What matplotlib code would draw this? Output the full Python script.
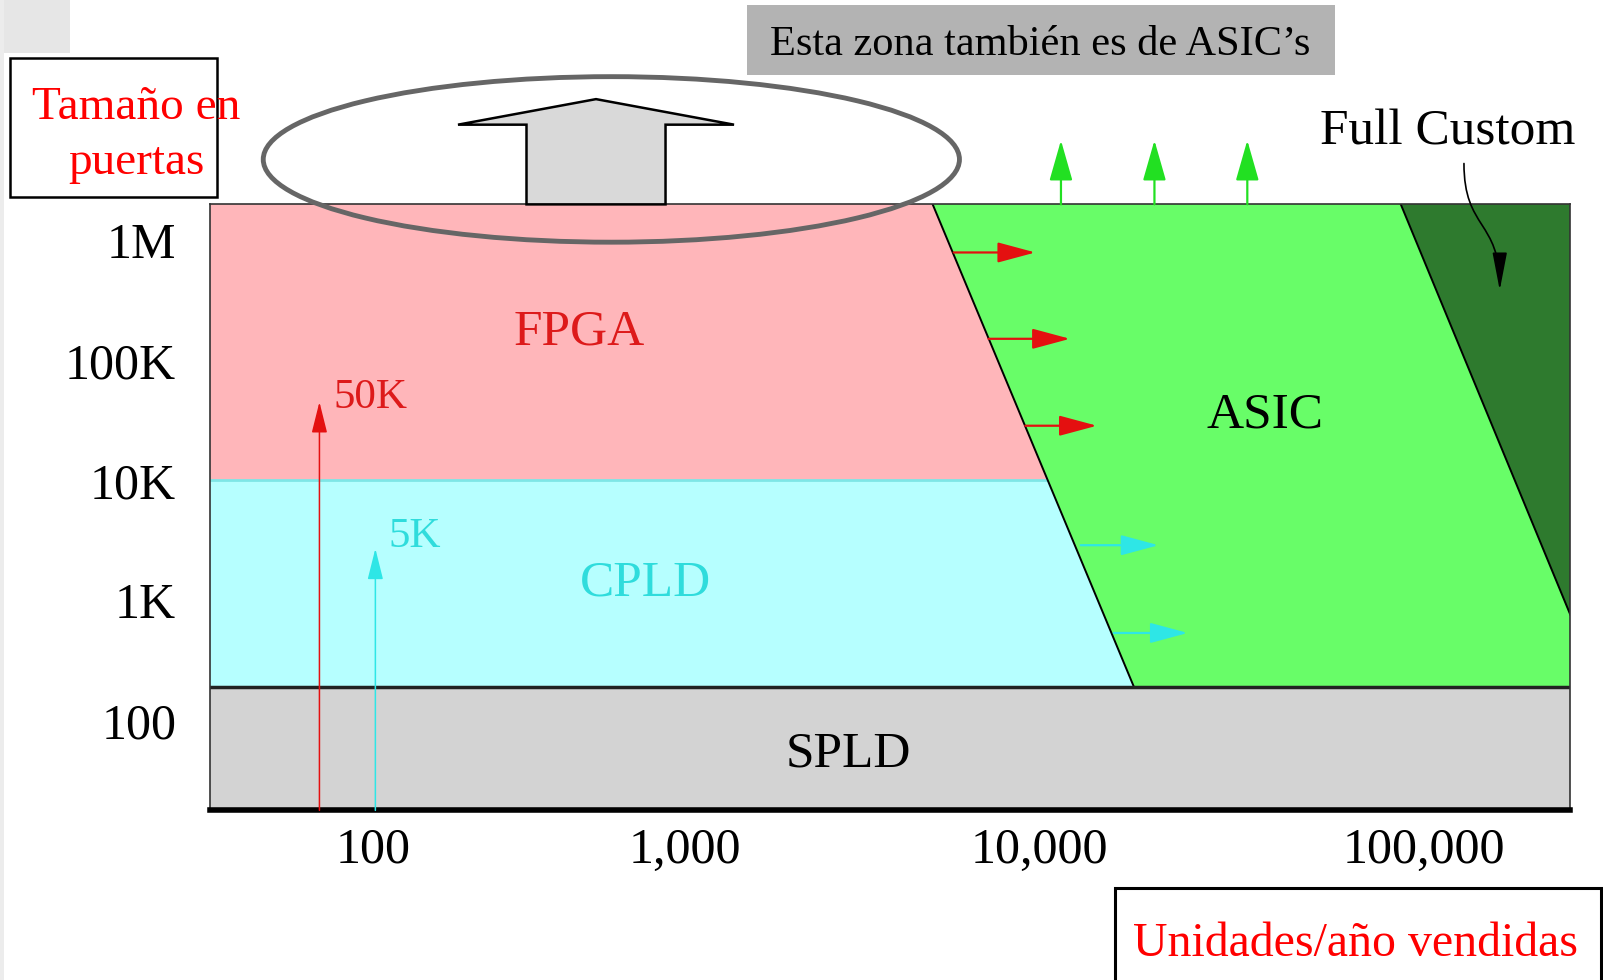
import numpy as np
import matplotlib
matplotlib.use('Agg')
import matplotlib.pyplot as plt
from matplotlib.patches import Rectangle, Ellipse, Polygon, FancyArrowPatch
from matplotlib.path import Path

plt.rcParams['font.family'] = ['Liberation Serif', 'DejaVu Serif']

# axes: units sold per year (x) and size in gates (y)
unit_ticks = [100, 1000, 10000, 100000]
unit_labels = ['100', '1,000', '10,000', '100,000']
gate_ticks = [100, 1000, 10000, 100000, 1000000]
gate_labels = ['100', '1K', '10K', '100K', '1M']
units_range = [30, 240000]
gates_range = [17.8, 1.99e6]

# region boundaries
spld_top = 190
cpld_top = 10000
asic_units = [5000, 17600]        # FPGA/CPLD -> ASIC edge, at top and at SPLD line
custom_units_top = 87000          # full custom edge at top
custom_gates_right = 760          # ... where it hits the right border

# migration arrows towards ASIC
red_arrow_gates = [791000, 151000, 28500]
red_arrow_start = [5730, 7180, 9120]
red_arrow_end = [9730, 12000, 14100]
cyan_arrow_gates = [2880, 535]
cyan_arrow_start = [12800, 15600]
cyan_arrow_end = [20400, 24300]
green_arrow_units = [11370, 19900, 34700]
green_arrow_tip = 6.8e6

# typical device size markers
fpga_mark_units, fpga_mark_gates = 67.5, 45000
cpld_mark_units, cpld_mark_gates = 102, 2700
fpga_mark_label = ('50K', 75, 49000)
cpld_mark_label = ('5K', 112, 3370)

# region labels: (text, units, gates, colour)
region_labels = [
    ('FPGA', 459, 170000, '#dd1a1a'),
    ('CPLD', 750, 1400, '#2fdcdc'),
    ('ASIC', 38500, 35000, 'black'),
    ('SPLD', 2890, 52, 'black'),
]

# the sketch does not space its decades evenly, so map them piecewise
decade_log = [1, 2, 3, 4, 5, 6]
decade_pos = [60, 365, 670, 1017, 1393, 1769]


def fwd(x):
    with np.errstate(divide='ignore', invalid='ignore'):
        lx = np.log10(np.clip(x, 1e-12, None))
    return np.interp(lx, decade_log, decade_pos)


def inv(p):
    return 10 ** np.interp(p, decade_pos, decade_log)


W, H = 1568, 959


def fp(x, y):
    # reference pixel -> figure fraction
    return (x / W, 1 - y / H)


fig = plt.figure(figsize=(16.03, 9.80), dpi=100)

# faint slide background bits
fig.add_artist(Rectangle(fp(0, 52), 68 / W, 52 / H, transform=fig.transFigure,
                         facecolor='#e6e6e6', edgecolor='none', zorder=0))
fig.add_artist(Rectangle(fp(0, 959), 4 / W, 1, transform=fig.transFigure,
                         facecolor='#ececec', edgecolor='none', zorder=0))

ax = fig.add_axes([205 / W, 1 - 793 / H, 1331 / W, 593 / H])
ax.set_xscale('function', functions=(fwd, inv))
ax.set_yscale('log')
ax.set_xlim(units_range)
ax.set_ylim(gates_range)

x0, x1 = units_range
y0, y1 = gates_range
ax.fill([x0, x1, x1, x0], [cpld_top, cpld_top, y1, y1], color='#ffb6ba', lw=0, zorder=1)
ax.fill([x0, x1, x1, x0], [spld_top, spld_top, cpld_top, cpld_top], color='#b6ffff', lw=0, zorder=1)
ax.fill([x0, x1, x1, x0], [y0, y0, spld_top, spld_top], color='#d3d3d3', lw=0, zorder=1)
ax.plot([x0, x1], [cpld_top, cpld_top], color='#7ee6e6', lw=2, zorder=1.5)
ax.fill([asic_units[0], x1, x1, asic_units[1]], [y1, y1, spld_top, spld_top],
        color='#68fd68', lw=0, zorder=2)
ax.fill([custom_units_top, x1, x1], [y1, y1, custom_gates_right],
        color='#2e7a2e', lw=0, zorder=2)
ax.plot(asic_units, [y1, spld_top], color='black', lw=1.4, zorder=3)
ax.plot([custom_units_top, x1], [y1, custom_gates_right], color='black', lw=1.4, zorder=3)
ax.plot([x0, x1], [spld_top, spld_top], color='#222222', lw=2.5, zorder=3)

for side in ['left', 'top', 'right']:
    ax.spines[side].set_linewidth(1.2)
    ax.spines[side].set_color('#333333')
ax.spines['bottom'].set_linewidth(4)
ax.spines['bottom'].set_color('black')
for s in ax.spines.values():
    s.set_zorder(4)

ax.set_xticks(unit_ticks, unit_labels, fontsize=36)
ax.set_yticks(gate_ticks, gate_labels, fontsize=36)
ax.minorticks_off()
ax.tick_params(axis='x', length=0, pad=12)
ax.tick_params(axis='y', length=0, pad=24)

for txt, ux, gy, col in region_labels:
    ax.text(ux, gy, txt, color=col, fontsize=37, ha='center', va='center', zorder=5)

# migration arrows
for g, a, b in zip(red_arrow_gates, red_arrow_start, red_arrow_end):
    ax.annotate('', xy=(b, g), xytext=(a, g), zorder=5,
                arrowprops=dict(arrowstyle='-|>,head_length=1.3,head_width=0.35',
                                mutation_scale=18, color='#e41010', lw=1.6,
                                shrinkA=0, shrinkB=0))
for g, a, b in zip(cyan_arrow_gates, cyan_arrow_start, cyan_arrow_end):
    ax.annotate('', xy=(b, g), xytext=(a, g), zorder=5,
                arrowprops=dict(arrowstyle='-|>,head_length=1.3,head_width=0.35',
                                mutation_scale=18, color='#2ee6e6', lw=1.6,
                                shrinkA=0, shrinkB=0))
for u in green_arrow_units:
    ax.annotate('', xy=(u, green_arrow_tip), xytext=(u, y1), zorder=5,
                annotation_clip=False,
                arrowprops=dict(arrowstyle='-|>,head_length=1.4,head_width=0.4',
                                mutation_scale=18, color='#22e022', lw=1.6,
                                shrinkA=0, shrinkB=0))

# size markers
ax.annotate('', xy=(fpga_mark_units, fpga_mark_gates), xytext=(fpga_mark_units, y0), zorder=5,
            arrowprops=dict(arrowstyle='-|>,head_length=1.2,head_width=0.3',
                            mutation_scale=16, color='#e41010', lw=1.1,
                            shrinkA=0, shrinkB=0))
ax.annotate('', xy=(cpld_mark_units, cpld_mark_gates), xytext=(cpld_mark_units, y0), zorder=5,
            arrowprops=dict(arrowstyle='-|>,head_length=1.2,head_width=0.3',
                            mutation_scale=16, color='#2ee6e6', lw=1.1,
                            shrinkA=0, shrinkB=0))
for (txt, ux, gy), col in [(fpga_mark_label, '#dd1a1a'), (cpld_mark_label, '#2fdcdc')]:
    ax.text(ux, gy, txt, color=col, fontsize=31, ha='left', va='center', zorder=5)

# callouts around the chart
fig.add_artist(Rectangle(fp(731, 73), 575 / W, 68 / H, transform=fig.transFigure,
                         facecolor='#b3b3b3', edgecolor='none', zorder=6))
fig.text(*fp(1017, 44), 'Esta zona también es de ASIC’s', fontsize=30.5,
         ha='center', va='center', zorder=7)

fig.add_artist(Rectangle(fp(10, 193), 202 / W, 136 / H, transform=fig.transFigure,
                         facecolor='white', edgecolor='black', lw=1.8, zorder=6))
fig.text(*fp(133, 132), 'Tamaño en\npuertas', color='red', fontsize=34,
         ha='center', va='center', multialignment='center', linespacing=1.38, zorder=7)

fig.add_artist(Rectangle(fp(1091, 990), 475 / W, 121 / H, transform=fig.transFigure,
                         facecolor='white', edgecolor='black', lw=2.2, zorder=6))
fig.text(*fp(1326, 924), 'Unidades/año vendidas', color='red', fontsize=34.5,
         ha='center', va='center', zorder=7)

fig.add_artist(Polygon([fp(448, 122), fp(583, 97), fp(718, 122), fp(651, 122),
                        fp(651, 200), fp(515, 200), fp(515, 122)],
                       closed=True, transform=fig.transFigure,
                       facecolor='#d9d9d9', edgecolor='black', lw=1.8, zorder=6))
fig.add_artist(Ellipse(fp(598, 156), 681 / W, 162 / H, transform=fig.transFigure,
                       fill=False, edgecolor='#666666', lw=3.5, zorder=7))

fig.text(*fp(1416, 129), 'Full Custom', fontsize=37, ha='center', va='center', zorder=7)
curve = Path([fp(1432, 160), fp(1432, 225), fp(1467, 215), fp(1467, 284)],
             [Path.MOVETO, Path.CURVE4, Path.CURVE4, Path.CURVE4])
fig.add_artist(FancyArrowPatch(path=curve, transform=fig.transFigure,
                               arrowstyle='-|>,head_length=1.3,head_width=0.25',
                               mutation_scale=18, color='black', lw=1.2, zorder=7))

fig.savefig('out.png', dpi=100, facecolor='white')
